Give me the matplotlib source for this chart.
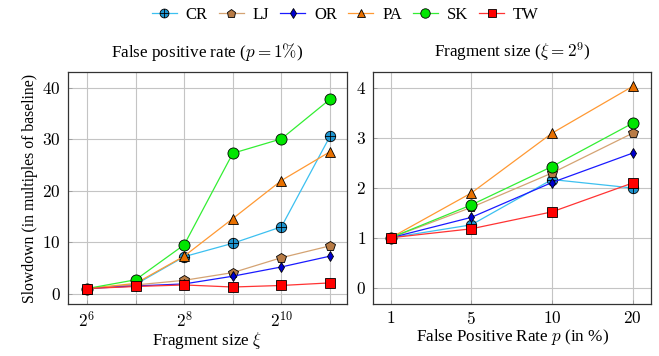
import numpy as np
import matplotlib
matplotlib.use("Agg")
import matplotlib.pyplot as plt
from matplotlib.path import Path

plt.rcParams["font.family"] = ["Liberation Serif", "DejaVu Serif"]
plt.rcParams["mathtext.fontset"] = "cm"

# Data
series = ["CR", "LJ", "OR", "PA", "SK", "TW"]
frag_exp = [6, 7, 8, 9, 10, 11]
frag_sizes = [2 ** e for e in frag_exp]
slow_frag = {
    "CR": [1.0, 1.8, 7.2, 9.8, 13.0, 30.6],
    "LJ": [1.0, 1.7, 2.6, 4.1, 7.0, 9.3],
    "OR": [1.0, 1.5, 1.9, 3.4, 5.2, 7.3],
    "PA": [1.0, 2.0, 7.3, 14.6, 22.0, 27.6],
    "SK": [1.0, 2.7, 9.5, 27.3, 30.1, 37.8],
    "TW": [1.0, 1.4, 1.7, 1.3, 1.6, 2.1],
}
fp_rates = ["1", "5", "10", "20"]
slow_fp = {
    "CR": [1.0, 1.26, 2.17, 2.0],
    "LJ": [1.0, 1.61, 2.3, 3.1],
    "OR": [1.0, 1.41, 2.11, 2.7],
    "PA": [1.0, 1.9, 3.1, 4.04],
    "SK": [1.0, 1.66, 2.43, 3.3],
    "TW": [1.0, 1.18, 1.52, 2.1],
}

# circle with a plus inside
oplus = Path.make_compound_path(
    Path.unit_circle(),
    Path([[-1, 0], [1, 0]], [Path.MOVETO, Path.LINETO]),
    Path([[0, -1], [0, 1]], [Path.MOVETO, Path.LINETO]),
)

style = {
    "CR": dict(color="#3cc0f0", marker=oplus, mfc="#1f95d0", ms=7.5),
    "LJ": dict(color="#d4a373", marker="p", mfc="#b87b45", ms=7.5),
    "OR": dict(color="#1a1aff", marker="d", mfc="#0000d0", ms=5.5),
    "PA": dict(color="#ff9933", marker="^", mfc="#e87000", ms=6.5),
    "SK": dict(color="#33ee33", marker="o", mfc="#00e600", ms=8),
    "TW": dict(color="#ff3333", marker="s", mfc="#ff0000", ms=7.5),
}

fig = plt.figure(figsize=(6.59, 3.56), dpi=100)
ax1 = fig.add_axes([0.1032, 0.1461, 0.4234, 0.6517])
ax2 = fig.add_axes([0.566, 0.1461, 0.422, 0.6517])

def draw(ax, x, data):
    handles = []
    for name in series:
        s = style[name]
        h, = ax.plot(x, data[name], color=s["color"], lw=0.9, marker=s["marker"],
                     ms=s["ms"], mfc=s["mfc"], mec="black", mew=0.6, label=name,
                     zorder=3)
        handles.append(h)
    return handles

for ax in (ax1, ax2):
    ax.grid(True, color="#c4c4c4", lw=0.8, zorder=0)
    ax.set_axisbelow(True)
    for sp in ax.spines.values():
        sp.set_linewidth(0.9)
        sp.set_color("#333333")
    ax.tick_params(direction="in", length=3, width=0.6, color="#999999",
                   labelsize=12.5, pad=5)

handles = draw(ax1, frag_sizes, slow_frag)
ax1.set_xscale("log", base=2)
ax1.set_xlim(2 ** 5.61, 2 ** 11.35)
ax1.set_xticks(frag_sizes)
ax1.set_xticklabels([f"$2^{{{e}}}$" if e % 2 == 0 else "" for e in frag_exp])
ax1.minorticks_off()
ax1.set_ylim(-2, 43.1)
ax1.set_yticks([0, 10, 20, 30, 40])
ax1.set_yticklabels([f"${v}$" for v in [0, 10, 20, 30, 40]])
ax1.set_title(r"False positive rate ($p = 1\%$)", fontsize=12.3, pad=11)
ax1.set_xlabel(r"Fragment size $\xi$", fontsize=12.3, labelpad=-1)
ax1.set_ylabel("Slowdown (in multiples of baseline)", fontsize=11.3, labelpad=3)

xpos = np.arange(len(fp_rates))
draw(ax2, xpos, slow_fp)
ax2.set_xlim(-0.22, 3.23)
ax2.set_xticks(xpos)
ax2.set_xticklabels([f"${r}$" for r in fp_rates])
ax2.set_ylim(-0.33, 4.33)
ax2.set_yticks([0, 1, 2, 3, 4])
ax2.set_yticklabels([f"${v}$" for v in [0, 1, 2, 3, 4]])
ax2.set_title(r"Fragment size ($\xi = 2^9$)", fontsize=12.3, pad=11)
ax2.set_xlabel(r"False Positive Rate $p$ (in %)", fontsize=12.3, labelpad=-1)

fig.legend(handles, series, loc="center", bbox_to_anchor=(0.524, 0.958), ncol=6,
           frameon=False, fontsize=12, handlelength=1.5, handletextpad=0.54,
           columnspacing=0.66, markerscale=0.85)

fig.savefig("out.png", dpi=100)
